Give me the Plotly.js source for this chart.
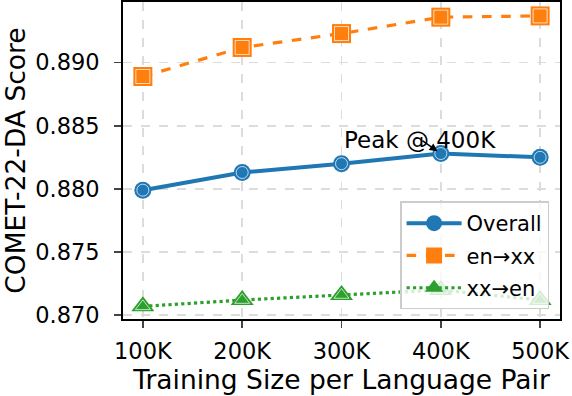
<!DOCTYPE html>
<html>
<head>
<meta charset="utf-8">
<script src="https://cdn.plot.ly/plotly-3.0.1.min.js"></script>
<style>
  html, body { margin: 0; padding: 0; background: #fff; }
  #chart { width: 572px; height: 396px; }
</style>
</head>
<body>
<div id="chart"></div>
<script>
// training sizes (K) and tick labels
var sizes = [100, 200, 300, 400, 500];
var tickLabels = ['100K', '200K', '300K', '400K', '500K'];

// scores
var overall = [0.8799, 0.8813, 0.8820, 0.8828, 0.8825];
var enXX = [0.8889, 0.8912, 0.8923, 0.8936, 0.8937];
var xxEN = [0.8707, 0.8712, 0.8716, 0.8720, 0.8712];

var font = 'DejaVu Sans, sans-serif';

function series(y, name, color, dash, width, symbol, size) {
  return {
    x: sizes,
    y: y,
    name: name,
    legendgroup: name,
    type: 'scatter',
    mode: 'lines+markers',
    line: { color: color, width: width, dash: dash },
    marker: { symbol: symbol, size: size, color: color, line: { width: 0 } }
  };
}

// thin white ring inside each marker
function rings(y, symbol, size) {
  return {
    x: sizes,
    y: y,
    type: 'scatter',
    mode: 'markers',
    showlegend: false,
    hoverinfo: 'skip',
    marker: { symbol: symbol + '-open', size: size, color: 'rgba(255,255,255,0.7)', line: { width: 1 } }
  };
}

var data = [
  series(overall, 'Overall', '#1f77b4', 'solid', 4, 'circle', 17),
  series(enXX, 'en→xx', '#ff7f0e', 'dash', 3.2, 'square', 19),
  series(xxEN, 'xx→en', '#2ca02c', 'dot', 3.2, 'triangle-up', 20),
  rings(overall, 'circle', 12),
  rings(enXX, 'square', 14),
  rings(xxEN, 'triangle-up', 13)
];

var axisCommon = {
  ticks: 'outside',
  ticklen: 7,
  tickwidth: 1.5,
  tickfont: { size: 22.5 },
  showline: true,
  mirror: true,
  linecolor: '#000',
  linewidth: 1.8,
  showgrid: true,
  gridcolor: '#dcdcdc',
  gridwidth: 1.6,
  griddash: 'dash',
  zeroline: false
};

var layout = {
  width: 572,
  height: 396,
  margin: { l: 123, r: 12, t: 2, b: 77 },
  paper_bgcolor: '#fff',
  plot_bgcolor: '#fff',
  font: { family: font, size: 21, color: '#000' },
  showlegend: true,
  xaxis: Object.assign({}, axisCommon, {
    range: [80, 520],
    tickvals: sizes,
    ticktext: tickLabels,
    ticklabelstandoff: 4,
    title: { text: 'Training Size per Language Pair', font: { size: 26.5 }, standoff: 8 }
  }),
  yaxis: Object.assign({}, axisCommon, {
    range: [0.8697, 0.8948],
    tickvals: [0.870, 0.875, 0.880, 0.885, 0.890],
    tickformat: '.3f',
    ticklabelstandoff: 10,
    title: { text: 'COMET-22-DA Score', font: { size: 26.5 }, standoff: 8 }
  }),
  legend: {
    x: 0.975,
    y: 0.03,
    xanchor: 'right',
    yanchor: 'bottom',
    bgcolor: 'rgba(255,255,255,0.8)',
    bordercolor: '#cccccc',
    borderwidth: 1.5,
    font: { size: 21 },
    itemwidth: 55,
    traceorder: 'grouped',
    tracegroupgap: 2
  },
  annotations: [
    {
      x: 400, y: overall[3],
      xref: 'x', yref: 'y',
      text: '',
      showarrow: true,
      arrowhead: 2,
      arrowsize: 1,
      arrowwidth: 1.6,
      arrowcolor: '#000',
      standoff: 4,
      ax: -20, ay: -14
    },
    {
      x: 400, y: 0.8839,
      xref: 'x', yref: 'y',
      xshift: -21,
      text: 'Peak @ 400K',
      showarrow: false,
      font: { size: 23, color: '#000' }
    }
  ]
};

Plotly.newPlot('chart', data, layout, { displayModeBar: false, staticPlot: true });
</script>
</body>
</html>
